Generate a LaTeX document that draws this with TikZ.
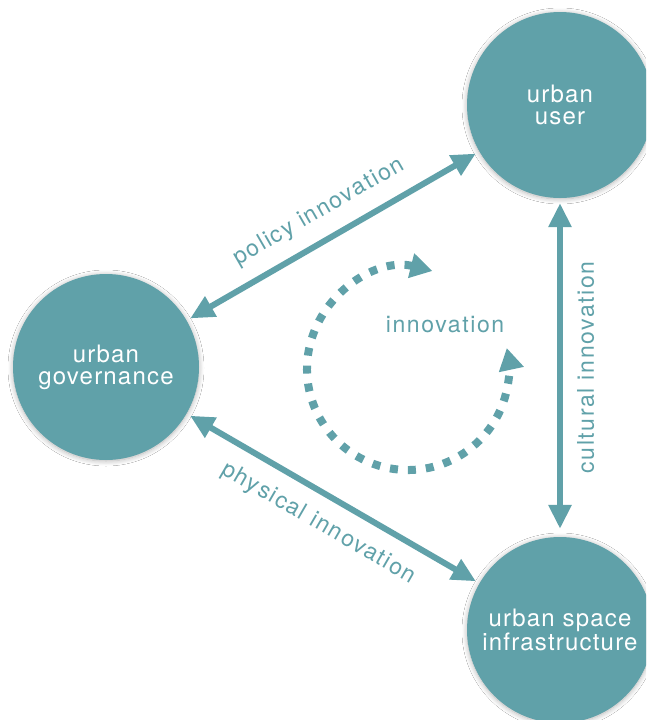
\documentclass[tikz,border=0pt]{standalone}
\usepackage{fontspec}
\setmainfont{TeX Gyre Heros}[LetterSpace=5]
\newfontfamily\labfont{TeX Gyre Heros}[LetterSpace=7]
\usetikzlibrary{arrows.meta,shadows.blur}
\definecolor{tealc}{RGB}{96,161,169}
\begin{document}
\begin{tikzpicture}[x=1pt,y=-1pt,
  >={Triangle[width=22pt,length=24pt]},
  hub/.style={circle, fill=tealc, minimum size=186pt, inner sep=0pt, text=white,
    align=center, font=\fontsize{24}{22}\selectfont,
    blur shadow={shadow xshift=0pt, shadow yshift=-1pt, shadow opacity=30, shadow scale=1.0, shadow blur radius=5pt, shadow blur steps=12}},
  link/.style={draw=tealc, line width=6pt, <->, shorten <=4pt, shorten >=4pt},
  lab/.style={text=tealc, font=\labfont\fontsize{23}{23}\selectfont, inner sep=0pt, sloped},
  cyc/.style={draw=tealc, line width=8pt, dash pattern=on 8pt off 10pt,
    arrows={Triangle[width=24pt,length=22pt]-Triangle[width=24pt,length=22pt]}}]
\useasboundingbox (0,0) rectangle (646,720);
\clip (0,0) rectangle (646,720);
\fill[white] (0,0) rectangle (646,720);

\node[hub] (user)  at (560,105) {urban\\user};
\node[hub] (gov)   at (106,367) {urban\\governance};
\node[hub] (infra) at (560,630) {urban space\\infrastructure};

\draw[link] (gov) -- node[lab, above=14pt] {policy innovation} (user);
\draw[link] (gov) -- node[lab, below=15pt] {physical innovation} (infra);
\draw[link, shorten <=8pt, shorten >=5pt] (infra) -- node[lab, below=14pt] {cultural innovation} (user);

\coordinate (ic) at (408,369);
\draw[cyc] ([shift={(-76:101)}]ic) arc[start angle=-76, end angle=-372, radius=101];
\node[text=tealc, font=\labfont\fontsize{23}{23}\selectfont] (inn) at (445,325) {innovation};
\end{tikzpicture}
\end{document}
